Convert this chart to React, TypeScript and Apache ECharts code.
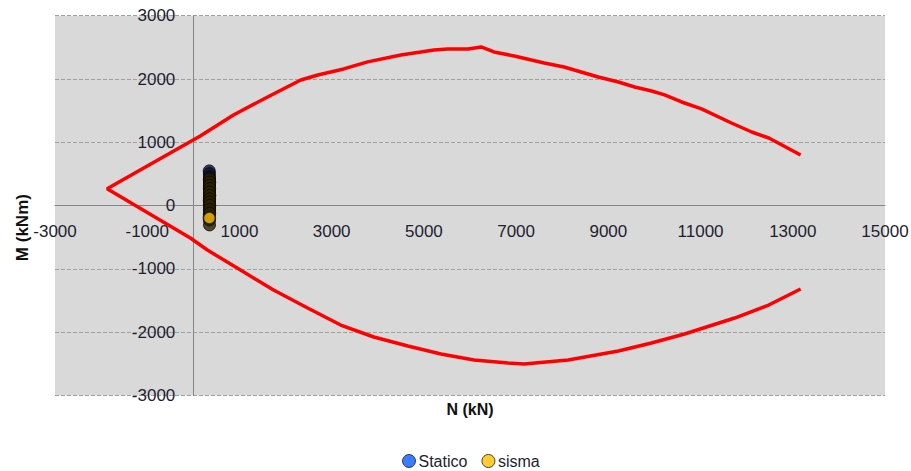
import { useEffect, useRef } from "react";
import * as echarts from "echarts";

// Interaction domain (red curve): upper branch from right end to the left tip
const upperN = [13170, 12480, 12110, 11670, 11020, 10590, 10220, 9940, 9570, 9220, 8780, 8410, 8040, 7610, 6960, 6520, 6240, 5960, 5520, 5220, 4500, 3780, 3260, 2700, 2330, 1610, 870, 150, -1870];
const upperM = [800, 1068, 1163, 1305, 1527, 1637, 1748, 1811, 1874, 1953, 2032, 2111, 2190, 2254, 2364, 2427, 2506, 2475, 2475, 2459, 2380, 2270, 2159, 2064, 1985, 1716, 1432, 1100, 265];
// lower branch from the tip to the right end
const lowerN = [-65, 304, 1022, 1739, 2478, 3196, 3913, 4652, 5370, 6087, 6826, 7174, 8130, 9217, 9935, 10652, 11739, 12478, 13170];
const lowerM = [-512, -702, -1018, -1334, -1618, -1887, -2076, -2219, -2345, -2440, -2487, -2503, -2440, -2298, -2171, -2029, -1776, -1571, -1318];

// Load points
const staticoN = [345, 348, 350, 346, 352, 349, 347, 351, 350, 348, 346, 350, 352, 349, 347, 350];
const staticoM = [548, 505, 455, 410, 360, 315, 270, 220, 175, 130, 85, 35, -15, -70, -140, -230];
const sismaN = [352, 355, 350, 354, 351, 356, 353, 350, 355, 352, 354, 351, 348];
const sismaM = [420, 370, 320, 270, 215, 160, 105, 55, 5, -60, -120, -305, -195];

const xTickLabels = [-3000, -1000, 1000, 3000, 5000, 7000, 9000, 11000, 13000, 15000];
const xMin = -3000;
const xMax = 15000;
const yMin = -3000;
const yMax = 3000;
const yStep = 1000;

const FONT = "Liberation Sans";
const TXT = "#1e1e30";

const W = 911;
const H = 471;
const G = { left: 55, right: 26, top: 15.7, bottom: 75.5 };

export default function App() {
  const ref = useRef<HTMLDivElement>(null);
  useEffect(() => {
    const chart = echarts.init(ref.current!, null, { renderer: "svg" });
    const curve = [
      ...upperN.map((n, i) => [n, upperM[i]]),
      ...lowerN.map((n, i) => [n, lowerM[i]]),
    ];
    const statico = staticoN.map((n, i) => ({
      value: [n, staticoM[i]],
      itemStyle: { color: "#0c1434", borderColor: "#000", borderWidth: 1 },
    }));
    const lastS = sismaN.length - 1;
    const sisma = sismaN.map((n, i) => ({
      value: [n, sismaM[i]],
      itemStyle:
        i === lastS
          ? { color: "#ffc000", borderColor: "#111", borderWidth: 1.5 }
          : { color: "#2a2200", borderColor: "#080600", borderWidth: 1 },
    }));
    // axes cross at zero: shift them inside the plot by the zero position
    const plotW = W - G.left - G.right;
    const plotH = H - G.top - G.bottom;
    const xAxisOffset = -((0 - yMin) / (yMax - yMin)) * plotH;
    const yAxisOffset = -((0 - xMin) / (xMax - xMin)) * plotW;
    chart.setOption({
      animation: false,
      textStyle: { fontFamily: FONT },
      grid: {
        ...G,
        show: true,
        backgroundColor: "#d9d9d9",
        borderWidth: 0,
        containLabel: false,
        outerBoundsMode: "none",
      },
      xAxis: {
        type: "value",
        min: xMin,
        max: xMax,
        position: "bottom",
        offset: xAxisOffset,
        axisLine: { show: true, onZero: false, lineStyle: { color: "#868686", width: 1 } },
        axisTick: { show: false },
        splitLine: { show: false },
        axisLabel: {
          customValues: xTickLabels,
          margin: 17,
          fontSize: 17,
          color: TXT,
          fontFamily: FONT,
          hideOverlap: false,
          formatter: (v: number) => String(v),
        },
        name: "N (kN)",
        nameLocation: "middle",
        nameGap: 196,
        nameTextStyle: { fontWeight: "bold", fontSize: 16, color: "#111", fontFamily: FONT },
      },
      yAxis: {
        type: "value",
        min: yMin,
        max: yMax,
        interval: yStep,
        position: "left",
        offset: yAxisOffset,
        axisLine: { show: true, onZero: false, lineStyle: { color: "#868686", width: 1 } },
        axisTick: { show: false },
        splitLine: { show: true, lineStyle: { color: "#a0a0a0", type: [4, 2], width: 1 } },
        axisLabel: {
          margin: 18,
          fontSize: 17,
          color: TXT,
          fontFamily: FONT,
          formatter: (v: number) => String(v),
        },
        name: "M (kNm)",
        nameLocation: "middle",
        nameRotate: 90,
        nameGap: 162,
        nameTextStyle: {
          fontWeight: "bold",
          fontSize: 17,
          color: "#111",
          fontFamily: FONT,
          padding: [0, 44, 0, 0],
        },
      },
      legend: {
        top: 453,
        left: 402,
        padding: 0,
        icon: "circle",
        itemWidth: 13,
        itemHeight: 13,
        itemGap: 14,
        textStyle: { fontSize: 16, color: TXT, fontFamily: FONT, padding: [0, 0, 0, -2] },
        data: [
          { name: "Statico", itemStyle: { color: "#0a5cff", borderColor: "#1a1a1a", borderWidth: 1 } },
          { name: "sisma", itemStyle: { color: "#ffc000", borderColor: "#1a1a1a", borderWidth: 1 } },
        ],
      },
      series: [
        {
          name: "Dominio",
          type: "line",
          data: curve,
          showSymbol: false,
          symbol: "none",
          lineStyle: { color: "#ff0000", width: 3.5 },
          z: 2,
        },
        {
          name: "Statico",
          type: "scatter",
          data: statico,
          symbol: "circle",
          symbolSize: 12,
          itemStyle: { color: "#0a5cff" },
          z: 3,
        },
        {
          name: "sisma",
          type: "scatter",
          data: sisma,
          symbol: "circle",
          symbolSize: 12,
          itemStyle: { color: "#ffc000" },
          z: 4,
        },
      ],
    });
    return () => chart.dispose();
  }, []);
  return (
    <div
      ref={ref}
      style={{ position: "absolute", left: 0, top: 0, width: W, height: H }}
    />
  );
}
